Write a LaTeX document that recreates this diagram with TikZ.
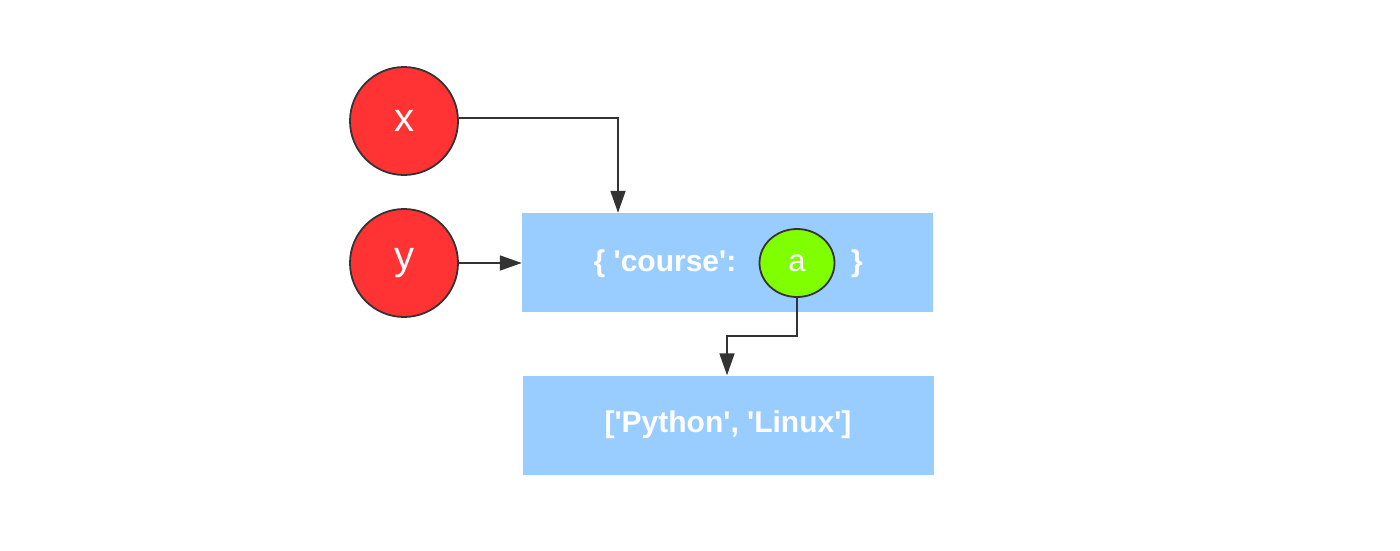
\documentclass[tikz,border=0pt]{standalone}
\usepackage{fontspec}
\setmainfont{Liberation Sans}[Ligatures=TeXOff]
\usetikzlibrary{shapes.geometric,arrows.meta}
\definecolor{redc}{HTML}{FF3333}
\definecolor{greenc}{HTML}{80FF00}
\definecolor{boxc}{HTML}{99CCFF}
\definecolor{linec}{HTML}{333333}
\begin{document}
\begin{tikzpicture}[x=1pt,y=-1pt,
  var/.style={circle,fill=redc,draw=linec,line width=1.8pt,minimum size=108pt,inner sep=0pt,text=white,font=\fontsize{40}{40}\selectfont},
  obj/.style={rectangle,fill=boxc,draw=none,minimum width=411pt,minimum height=99pt,inner sep=0pt,text=white,font=\bfseries\fontsize{30}{30}\selectfont},
  txt/.style={text=white,inner sep=0pt,font=\bfseries\fontsize{30}{30}\selectfont},
  ref/.style={ellipse,fill=greenc,draw=linec,line width=1.8pt,minimum width=75pt,minimum height=68pt,inner sep=0pt,text=white,font=\fontsize{31}{31}\selectfont},
  conn/.style={draw=linec,line width=1.8pt,-{Triangle[length=22pt,width=15pt]}}
]
\useasboundingbox (0,0) rectangle (1400,550);
\node[var] (x) at (404,121) {x};
\node[var] (y) at (404,263) {y};
\node[obj] (dict) at (727.5,262.5) {};
\node[obj] (list) at (728,425) {['Python', 'Linux']};
\node[txt] (lab) at (665,264) {\{ 'course':};
\node[txt] (rb) at (857,264) {\}};
\node[ref] (a) at (797,263) {a};
\coordinate (c1) at (618,118);
\coordinate (c2) at (797,336);
\coordinate (c3) at (727,336);
\draw[conn] (x.east |- c1) -- (c1) -- (c1 |- dict.north);
\draw[conn] (y) -- (y -| dict.west);
\draw[conn] (a.south) -- (c2) -- (c3) -- (c3 |- list.north);
\end{tikzpicture}
\end{document}
